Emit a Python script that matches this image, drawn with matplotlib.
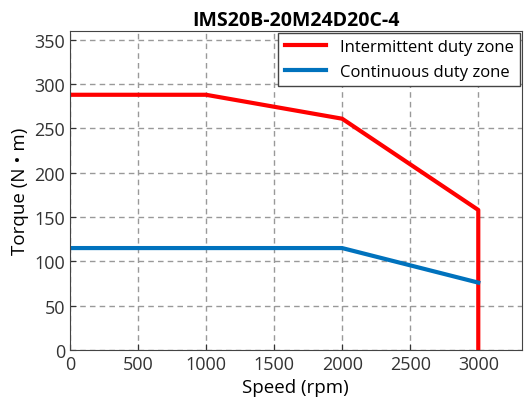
import numpy as np
import matplotlib
matplotlib.use('Agg')
import matplotlib.pyplot as plt

plt.rcParams['font.family'] = ['Open Sans', 'DejaVu Sans']

# Torque-speed curve data
speed_int = [0, 1000, 2000, 3000, 3000]
torque_int = [288, 288, 261, 158, 0]
speed_cont = [0, 2000, 3000]
torque_cont = [115, 115, 76]

fig = plt.figure(figsize=(5.25, 4.1), dpi=100)
ax = fig.add_axes([0.133, 0.144, 0.861, 0.778])

ax.plot(speed_int, torque_int, color='#FF0000', lw=3, label='Intermittent duty zone')
ax.plot(speed_cont, torque_cont, color='#0072BD', lw=3, label='Continuous duty zone')

ax.set_xlim(0, 3320)
ax.set_ylim(0, 360)
ax.set_xticks(np.arange(0, 3001, 500))
ax.set_yticks(np.arange(0, 351, 50))
ax.grid(True, ls=(0, (4, 3)), color='#999999', lw=1)
ax.tick_params(direction='in', labelsize=13, colors='#333333', length=4)
for s in ax.spines.values():
    s.set_color('#444444')
ax.set_xlabel('Speed (rpm)', fontsize=13.5)
ax.set_ylabel('Torque (N • m)', fontsize=13.5)
ax.set_title('IMS20B-20M24D20C-4', fontsize=14, fontweight='bold', pad=4)

leg = ax.legend(loc='upper right', fontsize=12, fancybox=False, framealpha=1,
                edgecolor='#444444', borderaxespad=0.1, handlelength=2.5)
leg.get_frame().set_linewidth(1)

plt.savefig('out.png', dpi=100)
plt.close()
